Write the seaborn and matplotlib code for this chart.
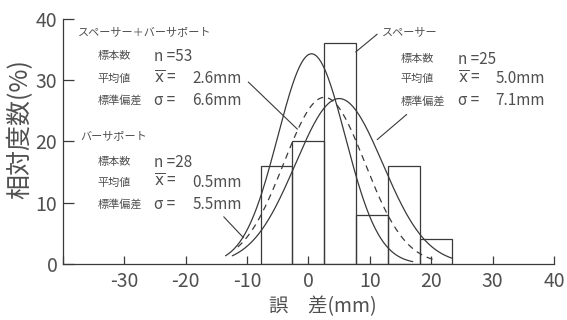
import numpy as np
import pandas as pd
import matplotlib
matplotlib.use('Agg')
import matplotlib.pyplot as plt
import seaborn as sns

# histogram of spacer errors (relative frequency, %)
bin_edges = [-7.8, -2.6, 2.6, 7.8, 13.0, 18.2, 23.4]
bin_centers = [-5.2, 0.0, 5.2, 10.4, 15.6, 20.8]
rel_freq = [16, 20, 36, 8, 16, 4]

# fitted normal curves: spacer+bar support, spacer, bar support
curve_names = ['スペーサー＋バーサポート', 'スペーサー', 'バーサポート']
curve_n = [53, 25, 28]
curve_mean = [2.6, 5.0, 0.5]
curve_sd = [6.6, 7.1, 5.5]
curve_peak = [27.2, 27.0, 34.3]
curve_from = [-11.5, -12.4, -13.5]
curve_to = [21.0, 23.4, 17.0]

x_ticks = [-30, -20, -10, 0, 10, 20, 30, 40]
y_ticks = [0, 10, 20, 30, 40]

sns.set_theme(style='ticks')
plt.rcParams['font.family'] = ['Noto Sans CJK JP', 'DejaVu Sans']
plt.rcParams['axes.unicode_minus'] = False

ink = '#3a3a3a'
txt = '#505050'

fig = plt.figure(figsize=(5.67, 3.2), dpi=100)
ax = fig.add_axes([0.111, 0.175, 0.866, 0.766])

# histogram bars
sns.histplot(x=bin_centers, weights=rel_freq, bins=bin_edges, fill=False,
             element='bars', color=ink, linewidth=0.9, ax=ax)

# normal curves
styles = ['--', '-', '-']
for i in range(3):
    xs = np.linspace(curve_from[i], curve_to[i], 200)
    ys = curve_peak[i] * np.exp(-0.5 * ((xs - curve_mean[i]) / curve_sd[i]) ** 2)
    d = pd.DataFrame({'x': xs, 'y': ys})
    sns.lineplot(data=d, x='x', y='y', color=ink, linewidth=0.9,
                 linestyle=styles[i], ax=ax)
ax.lines[0].set_dashes([5, 4])

ax.set_xlim(-40, 40)
ax.set_ylim(0, 40)
ax.set_xticks([-40] + x_ticks)
ax.set_xticklabels([''] + [str(t) for t in x_ticks])
ax.set_yticks(y_ticks)
sns.despine(ax=ax)
for s in ['left', 'bottom']:
    ax.spines[s].set_color(ink)
    ax.spines[s].set_linewidth(0.9)
ax.tick_params(axis='x', direction='in', length=6, width=0.9, color=ink,
               labelsize=14, labelcolor=txt, pad=5)
ax.tick_params(axis='y', direction='in', length=8, width=0.9, color=ink,
               labelsize=14, labelcolor=txt, pad=4)

ax.set_xlabel('誤　差(mm)', fontsize=14, color=txt)
ax.xaxis.set_label_coords(0.53, -0.13)
ax.set_ylabel('相対度数(%)', fontsize=18, color=txt)
ax.yaxis.set_label_coords(-0.06, 0.55)

# annotations
lab_kw = dict(fontsize=8, color=txt, va='center')
val_kw = dict(fontsize=11, color=txt, va='center')
xbar = r'$\overline{\mathrm{x}}$ ='


def stats_block(x_lab, x_sym, x_num, ys, i):
    ax.text(x_lab, ys[0], '標本数', **lab_kw)
    ax.text(x_lab, ys[1], '平均値', **lab_kw)
    ax.text(x_lab, ys[2], '標準偏差', **lab_kw)
    ax.text(x_sym, ys[0], f'n ={curve_n[i]}', **val_kw)
    ax.text(x_sym, ys[1], xbar, **val_kw)
    ax.text(x_sym, ys[2], 'σ =', **val_kw)
    ax.text(x_num, ys[1], f'{curve_mean[i]:.1f}mm', **val_kw)
    ax.text(x_num, ys[2], f'{curve_sd[i]:.1f}mm', **val_kw)


# spacer + bar support block
ax.text(-37.6, 37.9, curve_names[0], **lab_kw)
stats_block(-34.4, -25.2, -18.9, [33.9, 30.2, 26.7], 0)

# bar support block
ax.text(-37.1, 20.8, curve_names[2], **lab_kw)
stats_block(-34.4, -25.2, -18.9, [16.6, 13.3, 9.7], 2)

# spacer block
ax.text(12.0, 37.9, curve_names[1], **lab_kw)
stats_block(15.0, 24.3, 30.5, [33.4, 30.2, 26.6], 1)

# leader lines
leaders = [((-9.8, 29.7), (-1.8, 22.0)),
           ((11.2, 37.5), (7.7, 34.6)),
           ((16.0, 24.4), (11.2, 20.3)),
           ((-13.8, 7.7), (-10.6, 4.3))]
for (x0, y0), (x1, y1) in leaders:
    ax.plot([x0, x1], [y0, y1], color=ink, linewidth=0.8)

fig.savefig('out.png', dpi=100, facecolor='white')
